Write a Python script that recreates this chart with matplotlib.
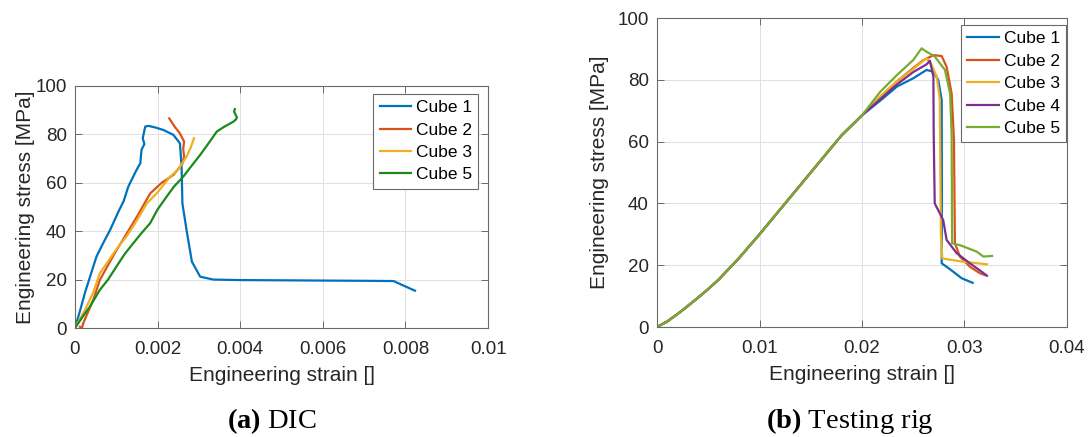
import matplotlib
matplotlib.use('Agg')
from matplotlib import pyplot as plt

plt.rcParams['font.family'] = ['Liberation Sans', 'DejaVu Sans']
plt.rcParams['mathtext.fontset'] = 'custom'
plt.rcParams['mathtext.rm'] = 'Liberation Serif'
plt.rcParams['mathtext.bf'] = 'Liberation Serif:bold'

# colours (MATLAB defaults, darker green for DIC cube 5)
c_blue = '#0072BD'
c_orange = '#D95319'
c_yellow = '#EDB120'
c_purple = '#7E2F8E'
c_green = '#77AC30'
c_dgreen = '#1b8a1b'

# ---- (a) DIC data ----
dic1_strain = [0, 0.00012, 0.00024, 0.00038, 0.00052, 0.00068, 0.00085, 0.00105, 0.00118,
               0.00129, 0.00149, 0.00158, 0.00161, 0.00168, 0.00164, 0.00166, 0.0017, 0.00178,
               0.00195, 0.00214, 0.00238, 0.00254, 0.00258, 0.0026, 0.0027, 0.00283, 0.00303,
               0.00335, 0.004, 0.005, 0.006, 0.007, 0.00771, 0.00823]
dic1_stress = [0, 7, 14.5, 22, 29.5, 35, 40.5, 48, 52.5, 58.4, 65.3, 68, 73.6, 76, 78.4, 80,
               83.2, 83.5, 82.8, 81.8, 79.8, 76.3, 66.7, 51.5, 40.5, 27.4, 21.2, 20, 19.8,
               19.7, 19.6, 19.5, 19.4, 15.4]
dic2_strain = [0.00012, 0.00017, 0.0002, 0.0003, 0.00045, 0.0006, 0.0008, 0.001, 0.00125,
               0.0015, 0.00182, 0.0021, 0.00238, 0.0026, 0.00264, 0.00262, 0.00264, 0.00254,
               0.00242, 0.00228]
dic2_stress = [0.5, 0, 2, 6, 12, 19.8, 26, 32, 39, 46, 55.6, 60, 63.2, 67.8, 70.8, 74, 77,
               80.4, 83, 86.6]
dic3_strain = [0, 0.00008, 0.00018, 0.00028, 0.00045, 0.0006, 0.0008, 0.001, 0.00125, 0.0015,
               0.00174, 0.002, 0.0023, 0.0025, 0.0027, 0.0028, 0.00288]
dic3_stress = [0, 2.5, 5.5, 8.8, 15, 22.6, 27.5, 32.5, 37.9, 44.5, 51.5, 56, 62.5, 65.5,
               70.8, 74.5, 78.4]
dic5_strain = [0, 0.0001, 0.00022, 0.00036, 0.0006, 0.0008, 0.001, 0.0012, 0.00141, 0.0016,
               0.00182, 0.002, 0.00222, 0.0024, 0.00262, 0.0028, 0.00303, 0.0032, 0.00343,
               0.0036, 0.00383, 0.0039, 0.00392, 0.00385, 0.00387]
dic5_stress = [0, 2.5, 5.5, 8.8, 15.7, 20, 25.3, 30.5, 35, 39, 43.3, 49, 54.3, 58.5, 62.5,
               66.5, 71.5, 75.5, 81.1, 83, 85.2, 86.2, 87, 89.4, 90.4]

# ---- (b) testing rig data ----
# common linear-elastic rise shared by all cubes
rise_strain = [0, 0.001, 0.002, 0.003, 0.004, 0.005, 0.006, 0.008, 0.010, 0.012, 0.014,
               0.016, 0.018, 0.020]
rise_stress = [0, 1.8, 4.2, 6.8, 9.5, 12.3, 15.3, 22.3, 30.0, 38.0, 46.0, 54.0, 62.0, 68.5]

rig1_strain = [0.0218, 0.0234, 0.025, 0.0263, 0.027, 0.02745, 0.02778, 0.0278, 0.02778,
               0.02826, 0.02891, 0.02972, 0.0308]
rig1_stress = [73.3, 77.8, 80.5, 83.2, 82.6, 79.9, 73.5, 45, 20.6, 19.5, 17.9, 15.8, 14.3]
rig2_strain = [0.0218, 0.0234, 0.025, 0.026, 0.027, 0.02778, 0.02826, 0.02875, 0.02898,
               0.02907, 0.02956, 0.03054, 0.03151, 0.032]
rig2_stress = [74.6, 79.5, 83.8, 86.4, 88, 87.7, 84.2, 75.6, 60.5, 27.1, 22.8, 19.5, 17.4,
               16.8]
rig3_strain = [0.0218, 0.0234, 0.025, 0.0263, 0.0268, 0.0273, 0.0276, 0.0277, 0.02784,
               0.0299, 0.0322]
rig3_stress = [74.6, 79.5, 83.5, 87, 84.8, 81, 73.5, 30.3, 22.2, 21.1, 20.3]
rig4_strain = [0.0218, 0.0234, 0.025, 0.0263, 0.02663, 0.02697, 0.027, 0.0271, 0.0276,
               0.02793, 0.02826, 0.02924, 0.03054, 0.03168, 0.0322]
rig4_stress = [73.8, 78.5, 82.5, 85, 86.2, 81, 62.7, 40, 36.8, 34.6, 28.2, 23.9, 20.6, 17.9,
               16.6]
rig5_strain = [0.0218, 0.0234, 0.025, 0.02582, 0.0263, 0.02712, 0.0281, 0.0286, 0.02875,
               0.0288, 0.02956, 0.0312, 0.03184, 0.0327]
rig5_stress = [76.2, 81.5, 86.4, 90.2, 89.1, 87.5, 83.2, 75.6, 62.7, 27.1, 26.5, 24.4, 22.8,
               23]

dic_xticks = [0, 0.002, 0.004, 0.006, 0.008, 0.01]
dic_xlabels = ['0', '0.002', '0.004', '0.006', '0.008', '0.01']
rig_xticks = [0, 0.01, 0.02, 0.03, 0.04]
rig_xlabels = ['0', '0.01', '0.02', '0.03', '0.04']
yticks = [0, 20, 40, 60, 80, 100]


def style_axes(ax, ylabelpad):
    for s in ax.spines.values():
        s.set_color('#6a6a6a')
        s.set_linewidth(0.8)
    ax.tick_params(direction='in', top=True, right=True, length=5, width=0.7,
                   colors='#6a6a6a', labelcolor='#262626', labelsize=13.5)
    ax.tick_params(axis='x', pad=9.5)
    ax.tick_params(axis='y', pad=6)
    ax.grid(True, color='#e0e0e0', linewidth=0.7)
    ax.set_axisbelow(True)
    ax.set_xlabel('Engineering strain []', fontsize=15, color='#262626', labelpad=5.5)
    ax.set_ylabel('Engineering stress [MPa]', fontsize=15, color='#262626',
                  labelpad=ylabelpad)


def add_legend(ax, anchor):
    leg = ax.legend(loc='upper right', bbox_to_anchor=anchor, borderaxespad=0,
                    fancybox=False, edgecolor='#6a6a6a', framealpha=1, fontsize=12.5,
                    handlelength=1.8, handletextpad=0.3, labelspacing=0.42, borderpad=0.35)
    leg.get_frame().set_linewidth(0.8)


fig = plt.figure(figsize=(10.9, 4.37), dpi=100)
lw = 1.6

ax1 = fig.add_axes([0.0688, 0.2494, 0.379, 0.554])
ax1.plot(dic1_strain, dic1_stress, color=c_blue, lw=lw, label='Cube 1')
ax1.plot(dic2_strain, dic2_stress, color=c_orange, lw=lw, label='Cube 2')
ax1.plot(dic3_strain, dic3_stress, color=c_yellow, lw=lw, label='Cube 3')
ax1.plot(dic5_strain, dic5_stress, color=c_dgreen, lw=lw, label='Cube 5')
ax1.set_xlim(0, 0.01)
ax1.set_ylim(0, 100)
ax1.set_xticks(dic_xticks, dic_xlabels)
ax1.set_yticks(yticks)
style_axes(ax1, 0)
add_legend(ax1, (0.976, 0.967))

ax2 = fig.add_axes([0.6028, 0.2517, 0.376, 0.707])
series = [(rig1_strain, rig1_stress, c_blue, 'Cube 1'),
          (rig2_strain, rig2_stress, c_orange, 'Cube 2'),
          (rig3_strain, rig3_stress, c_yellow, 'Cube 3'),
          (rig4_strain, rig4_stress, c_purple, 'Cube 4'),
          (rig5_strain, rig5_stress, c_green, 'Cube 5')]
for xs, ys, col, lab in series:
    ax2.plot(rise_strain + xs, rise_stress + ys, color=col, lw=lw, label=lab)
ax2.set_xlim(0, 0.04)
ax2.set_ylim(0, 100)
ax2.set_xticks(rig_xticks, rig_xlabels)
ax2.set_yticks(yticks)
style_axes(ax2, 6)
add_legend(ax2, (0.998, 0.977))

fig.text(0.249, 0.02, r'$\mathbf{(a)}$ DIC', ha='center', va='baseline',
         fontsize=20.5, family=['Liberation Serif', 'DejaVu Serif'])
fig.text(0.780, 0.02, r'$\mathbf{(b)}$ Testing rig', ha='center', va='baseline',
         fontsize=20.5, family=['Liberation Serif', 'DejaVu Serif'])

fig.savefig('out.png', dpi=100)
